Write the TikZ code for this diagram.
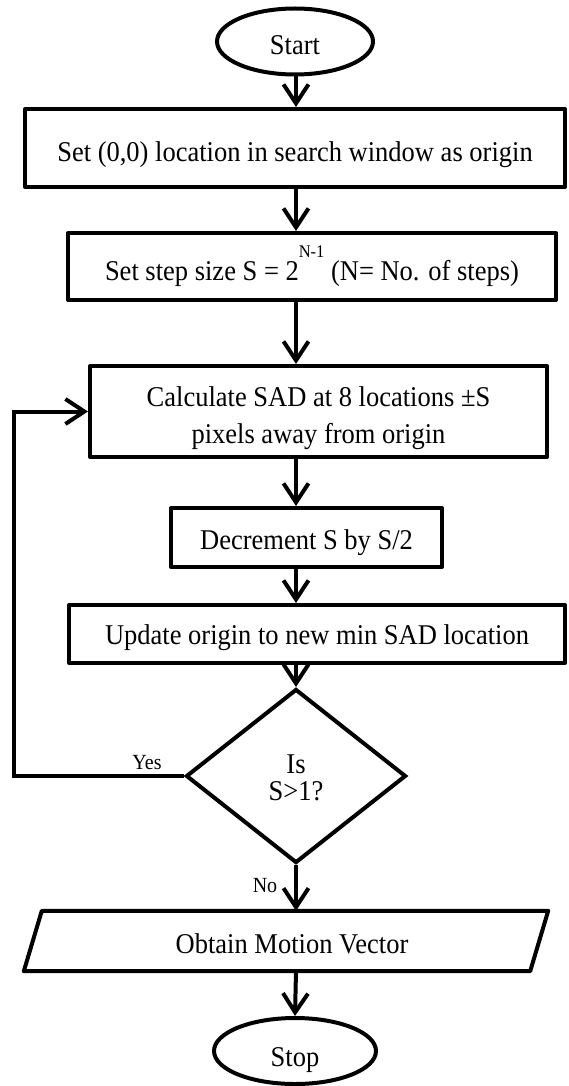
\documentclass[tikz,border=0pt]{standalone}
\usepackage{fontspec}
\usepackage{graphicx}
\setmainfont{Liberation Serif}
\usetikzlibrary{arrows.meta,shapes.geometric}

% text set slightly taller than the plain face
\newcommand{\tx}[1]{\scalebox{1}[1.08]{#1}}

\begin{document}
\begin{tikzpicture}[x=1pt,y=-1pt,
  every node/.style={font=\fontsize{26.5}{36}\selectfont},
  box/.style={draw, line width=4pt, line join=round, inner sep=0pt, text depth=0pt},
  term/.style={draw, ellipse, line width=4pt, inner sep=0pt, text depth=0pt},
  decision/.style={draw, diamond, line width=4pt, inner sep=0pt},
  line/.style={inner sep=0pt, anchor=base},
  flow/.style={line width=4pt, -{Straight Barb[length=19pt,width=25pt]}},
  lab/.style={font=\fontsize{20}{24}\selectfont, inner sep=0pt}]
\useasboundingbox (0,0) rectangle (568,1086);

% vertical spine of the flow
\coordinate (spine) at (296,0);
% left rail of the loop back
\coordinate (rail) at (14,0);

\node[term, minimum width=156pt, minimum height=66pt, text height=27pt] (start) at (295,41.5) {\tx{Start}};

\node[box, minimum width=540pt, minimum height=78pt, text height=28pt] (b1) at (295,148)
  {\tx{Set (0,0) location in search window as origin}};

\node[box, minimum width=488pt, minimum height=67pt, text height=27pt] (b2) at (312,266.5)
  {\tx{Set step size S = 2\smash{\raisebox{21pt}{\fontsize{16.5}{17}\selectfont N-1}}\ (N= No. of steps)}};

\node[box, minimum width=457pt, minimum height=91pt] (b3) at (318.5,411.5) {};
\node[line] (b3a) at ([yshift=5.5pt]b3.center) {\tx{Calculate SAD at 8 locations \textpm S}};
\node[line] (b3b) at ([yshift=-31.5pt]b3.center) {\tx{pixels away from origin}};

\node[box, minimum width=271pt, minimum height=59pt, text height=23pt] (b4) at (306.5,537.5)
  {\tx{Decrement S by S/2}};

\node[box, minimum width=496pt, minimum height=58pt, text height=20pt] (b5) at (317,634)
  {\tx{Update origin to new min SAD location}};

\node[decision, minimum width=220pt, minimum height=174pt, aspect=1.26] (dec) at (296,776) {};
\node[line] (deca) at ([yshift=3pt]dec.center) {\tx{Is}};
\node[line] (decb) at ([yshift=-24pt]dec.center) {\tx{S>1?}};

% input/output block: text node with a slanted frame drawn around it
\node[inner sep=0pt, minimum width=506pt, minimum height=60pt, text height=24pt, text depth=0pt] (vec) at (292,941)
  {\tx{Obtain Motion Vector}};
\draw[line width=4pt, line join=round]
  ([xshift=3pt]vec.north west) -- ([xshift=3pt]vec.north east)
  -- ([xshift=-15pt]vec.south east) -- ([xshift=-15pt]vec.south west) -- cycle;

\node[term, minimum width=162pt, minimum height=66pt, text height=30pt] (stop) at (295,1051) {\tx{Stop}};

% connectors
\draw[flow] (start.south -| spine) -- (b1.north -| spine);
\draw[flow] (b1.south -| spine) -- (b2.north -| spine);
\draw[flow] (b2.south -| spine) -- (b3.north -| spine);
\draw[flow] (b3.south -| spine) -- (b4.north -| spine);
\draw[flow] (b4.south -| spine) -- (b5.north -| spine);
\draw[flow] (b5.south -| spine) -- (dec.north);
\draw[flow] (dec.south) -- (dec.south |- vec.north);
\draw[flow] (vec.south -| spine) -- (stop.north);
\draw[flow] (dec.west) -- (dec.west -| rail) -- (b3.west -| rail) -- (b3.west);

\node[lab] (yes) at (147,763) {\tx{Yes}};
\node[lab] (no) at (265,886) {\tx{No}};
\end{tikzpicture}
\end{document}
